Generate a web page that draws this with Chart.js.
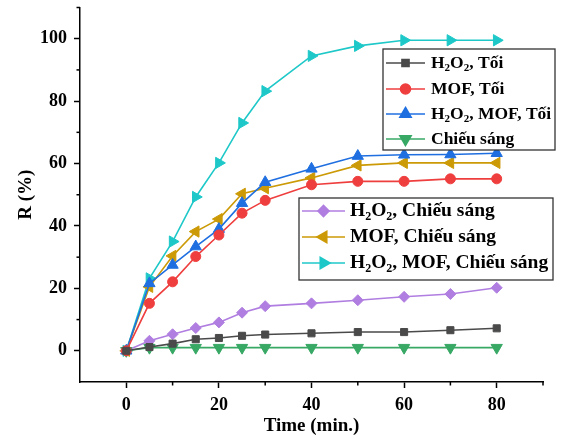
<!DOCTYPE html>
<html>
<head>
<meta charset="utf-8">
<script src="https://cdn.jsdelivr.net/npm/chart.js@4.4.0/dist/chart.umd.min.js"></script>
<style>
  html, body { margin: 0; padding: 0; background: #fff; }
  #wrap { position: relative; width: 565px; height: 438px; }
</style>
</head>
<body>
<div id="wrap"><canvas id="c" width="565" height="438"></canvas></div>
<script>
// time (min.)
const times = [0, 5, 10, 15, 20, 25, 30, 40, 50, 60, 70, 80];

// R (%) per condition
const h2o2Dark      = [0, 1.2, 2.3, 3.7, 4.1, 4.8, 5.2, 5.6, 6.0, 6.0, 6.6, 7.2];
const mofDark       = [0, 15.2, 22.1, 30.2, 37.1, 44.1, 48.2, 53.2, 54.3, 54.3, 55.1, 55.1];
const h2o2MofDark   = [0, 21.6, 27.5, 33.4, 39.0, 47.3, 54.0, 58.3, 62.4, 62.8, 62.9, 63.3];
const lightOnly     = [0, 1, 1, 1, 1, 1, 1, 1, 1, 1, 1, 1];
const h2o2Light     = [0, 3.2, 5.3, 7.3, 9.1, 12.2, 14.3, 15.2, 16.2, 17.3, 18.2, 20.2];
const mofLight      = [0, 20.5, 30.4, 38.2, 42.2, 50.3, 52.1, 55.4, 59.4, 60.2, 60.2, 60.2];
const h2o2MofLight  = [0, 23.2, 35.0, 49.3, 60.2, 73.0, 83.2, 94.5, 97.7, 99.5, 99.5, 99.5];

const labels = [
  'H_2O_2, Tối', 'MOF, Tối', 'H_2O_2, MOF, Tối', 'Chiếu sáng',
  'H_2O_2, Chiếu sáng', 'MOF, Chiếu sáng', 'H_2O_2, MOF, Chiếu sáng'
];

// axis ticks
const xMajor = [0, 20, 40, 60, 80];
const xMinor = [10, 30, 50, 70, 90];
const yMajor = [0, 20, 40, 60, 80, 100];
const yMinor = [10, 30, 50, 70, 90, 110];

const FONT = '"Liberation Serif", "Times New Roman", serif';

function series(label, values, color, style, rotation, radius) {
  return {
    label,
    data: times.map((t, i) => ({ x: t, y: values[i] })),
    borderColor: color,
    backgroundColor: color,
    borderWidth: 1.6,
    pointStyle: style,
    rotation: rotation,
    pointRadius: radius,
    pointBorderWidth: 1,
    pointHoverRadius: radius,
    tension: 0,
  };
}

const datasets = [
  series(labels[0], h2o2Dark, '#4a4a4a', 'rect', 0, 5),
  series(labels[1], mofDark, '#ef3e3e', 'circle', 0, 5),
  series(labels[2], h2o2MofDark, '#1f6fe0', 'triangle', 0, 6.5),
  series(labels[3], lightOnly, '#38a865', 'triangle', 180, 6.5),
  series(labels[4], h2o2Light, '#b07ee0', 'rectRot', 0, 5.5),
  series(labels[5], mofLight, '#cc9a06', 'triangle', 270, 6.5),
  series(labels[6], h2o2MofLight, '#1ec8c8', 'triangle', 90, 6.5),
];

// text with "_2" style subscripts
function drawRich(ctx, text, x, y, size) {
  const parts = text.split(/(_\d)/);
  const sub = Math.round(size * 0.62);
  let cx = x;
  ctx.textBaseline = 'middle';
  ctx.textAlign = 'left';
  ctx.fillStyle = '#000';
  parts.forEach((p) => {
    if (!p) return;
    if (p[0] === '_') {
      ctx.font = 'bold ' + sub + 'px ' + FONT;
      ctx.fillText(p.slice(1), cx, y + size * 0.3);
      cx += ctx.measureText(p.slice(1)).width;
    } else {
      ctx.font = 'bold ' + size + 'px ' + FONT;
      ctx.fillText(p, cx, y);
      cx += ctx.measureText(p).width;
    }
  });
}

const legendBoxes = [
  { x: 383, y: 49, w: 172, h: 101, size: 17.5, rowY: [63, 89, 114, 139], lineX: [386, 425], textX: 431, items: [0, 1, 2, 3] },
  { x: 299, y: 198, w: 254, h: 82, size: 19.5, rowY: [211, 237, 263], lineX: [302, 345], textX: 350, items: [4, 5, 6] },
];

const extras = {
  id: 'extras',
  afterDraw(chart) {
    const ctx = chart.ctx;
    const xs = chart.scales.x, ys = chart.scales.y;
    ctx.save();
    // minor ticks
    ctx.strokeStyle = '#000';
    ctx.lineWidth = 1.5;
    xMinor.forEach((v) => {
      const px = xs.getPixelForValue(v);
      ctx.beginPath(); ctx.moveTo(px, xs.top); ctx.lineTo(px, xs.top + 3.5); ctx.stroke();
    });
    yMinor.forEach((v) => {
      const py = ys.getPixelForValue(v);
      ctx.beginPath(); ctx.moveTo(ys.right, py); ctx.lineTo(ys.right - 3.5, py); ctx.stroke();
    });
    // legends
    legendBoxes.forEach((b) => {
      ctx.fillStyle = '#fff';
      ctx.fillRect(b.x, b.y, b.w, b.h);
      ctx.strokeStyle = '#333';
      ctx.lineWidth = 1.3;
      ctx.strokeRect(b.x, b.y, b.w, b.h);
      b.items.forEach((di, k) => {
        const ds = chart.data.datasets[di];
        const y = b.rowY[k];
        ctx.strokeStyle = ds.borderColor;
        ctx.fillStyle = ds.backgroundColor;
        ctx.lineWidth = 1.6;
        ctx.beginPath(); ctx.moveTo(b.lineX[0], y); ctx.lineTo(b.lineX[1], y); ctx.stroke();
        Chart.helpers.drawPoint(ctx, {
          pointStyle: ds.pointStyle, rotation: ds.rotation, radius: ds.pointRadius, borderWidth: 1
        }, (b.lineX[0] + b.lineX[1]) / 2, y);
        drawRich(ctx, ds.label, b.textX, y, b.size);
      });
    });
    ctx.restore();
  }
};

const tickFont = { family: FONT, size: 18, weight: 'bold' };
const titleFont = { family: FONT, size: 19, weight: 'bold' };

new Chart(document.getElementById('c'), {
  type: 'line',
  data: { datasets },
  plugins: [extras],
  options: {
    responsive: false,
    animation: false,
    events: [],
    layout: { padding: { top: 7, right: 22, left: 11, bottom: 0 } },
    plugins: { legend: { display: false }, tooltip: { enabled: false } },
    scales: {
      x: {
        type: 'linear',
        min: -10, max: 90,
        afterBuildTicks: (s) => { s.ticks = xMajor.map((v) => ({ value: v })); },
        afterFit: (s) => { s.height = 56; },
        border: { display: true, color: '#000', width: 1.5 },
        grid: { drawOnChartArea: false, color: '#000', tickLength: 6, tickWidth: 1.5 },
        ticks: { padding: 7, color: '#000', font: tickFont },
        title: { display: true, text: 'Time (min.)', color: '#000', padding: { top: 0, bottom: 1 }, font: titleFont },
      },
      y: {
        min: -10, max: 110,
        afterBuildTicks: (s) => { s.ticks = yMajor.map((v) => ({ value: v })); },
        afterFit: (s) => { s.width = 69; s.paddingTop = 0; s.paddingBottom = 0; },
        border: { display: true, color: '#000', width: 1.5 },
        grid: { drawOnChartArea: false, color: '#000', tickLength: 6, tickWidth: 1.5 },
        ticks: { padding: 7, color: '#000', font: tickFont },
        title: { display: true, text: 'R (%)', color: '#000', padding: { bottom: 0 }, font: titleFont },
      },
    },
  },
});
</script>
</body>
</html>
